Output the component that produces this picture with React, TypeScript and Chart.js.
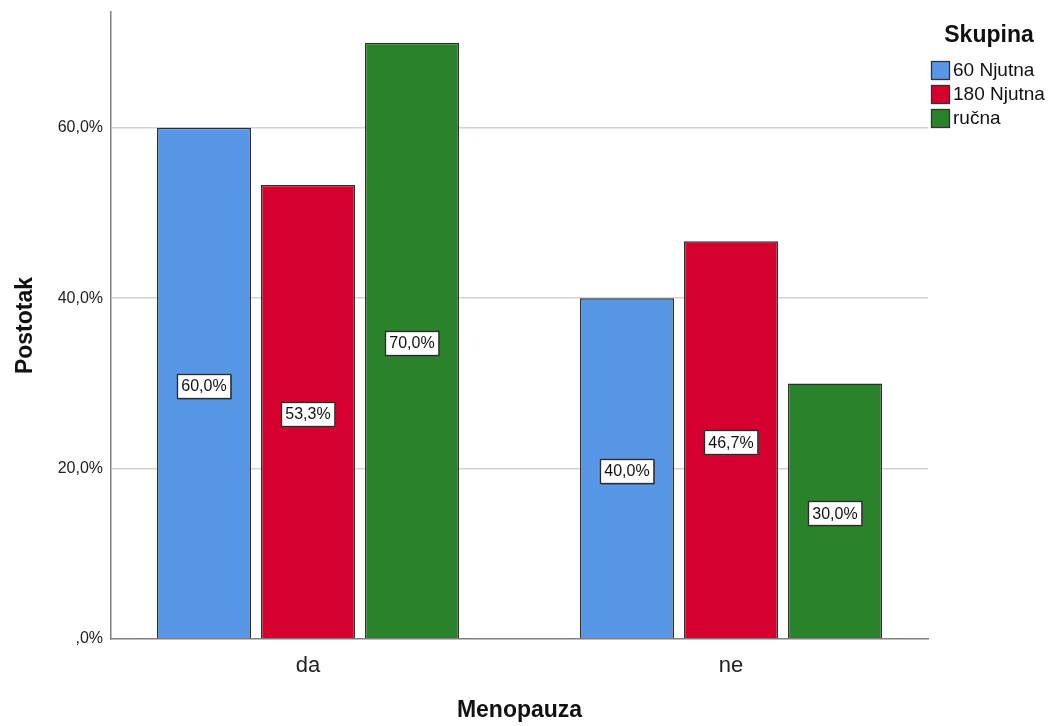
import React, { useEffect, useRef } from "react";
import { Chart, registerables } from "chart.js";

Chart.register(...registerables);

const categories = ["da", "ne"];
const seriesNames = ["60 Njutna", "180 Njutna", "ručna"];
const series60 = [60.0, 40.0];
const series180 = [53.3, 46.7];
const seriesRucna = [70.0, 30.0];
const yTicks = [0, 20, 40, 60];
const legendTitle = "Skupina";
const xTitle = "Menopauza";
const yTitle = "Postotak";

const colors = ["#5797E6", "#D6002E", "#2A832A"];
const FONT = "'Liberation Sans', Arial, sans-serif";
const X_MIN = -0.4657;
const X_MAX = 1.4657;
const Y_MAX = 73.6;

const fmt = (v: number) => (v === 0 ? ",0%" : v.toFixed(1).replace(".", ",") + "%");

const labelPlugin = {
  id: "barLabels",
  afterDatasetsDraw(chart: any) {
    const ctx = chart.ctx;
    ctx.save();
    ctx.font = `16px ${FONT}`;
    ctx.textAlign = "center";
    ctx.textBaseline = "middle";
    chart.data.datasets.forEach((ds: any, di: number) => {
      const meta = chart.getDatasetMeta(di);
      meta.data.forEach((el: any, i: number) => {
        const v = ds.data[i].y;
        const text = fmt(v);
        const cx = el.x;
        const cy = (el.y + el.base) / 2 + 2.5;
        const w = ctx.measureText(text).width + 8;
        const h = 24;
        const l = Math.round(cx - w / 2) + 0.5;
        const t = Math.round(cy - h / 2) + 0.5;
        ctx.fillStyle = "#555555";
        ctx.fillRect(l + 1, t + 1, w, h);
        ctx.fillStyle = "#ffffff";
        ctx.fillRect(l, t, w, h);
        ctx.strokeStyle = "#2a2a2a";
        ctx.lineWidth = 1.3;
        ctx.strokeRect(l, t, w, h);
        ctx.fillStyle = "#111111";
        ctx.fillText(text, cx, cy + 1);
      });
    });
    ctx.restore();
  },
};

const legendPlugin = {
  id: "sideLegend",
  afterDraw(chart: any) {
    const ctx = chart.ctx;
    const x0 = chart.chartArea.right + 3;
    ctx.save();
    ctx.fillStyle = "#111111";
    ctx.font = `bold 23px ${FONT}`;
    ctx.textAlign = "center";
    ctx.textBaseline = "middle";
    ctx.fillText(legendTitle, x0 + 58, 36);
    ctx.font = `19px ${FONT}`;
    ctx.textAlign = "left";
    chart.data.datasets.forEach((ds: any, i: number) => {
      const rowY = 70 + i * 24;
      ctx.fillStyle = ds.backgroundColor;
      ctx.fillRect(x0 + 0.5, rowY - 9 + 0.5, 18, 18);
      ctx.strokeStyle = "#333333";
      ctx.lineWidth = 1.3;
      ctx.strokeRect(x0 + 0.5, rowY - 9 + 0.5, 18, 18);
      ctx.fillStyle = "#111111";
      ctx.fillText(ds.label, x0 + 22, rowY + 1);
    });
    ctx.restore();
  },
};

export default function App() {
  const ref = useRef<HTMLCanvasElement | null>(null);

  useEffect(() => {
    if (!ref.current) return;
    Chart.defaults.font.family = FONT;
    const allSeries = [series60, series180, seriesRucna];
    const chart = new Chart(ref.current, {
      type: "bar",
      data: {
        datasets: allSeries.map((s, si) => ({
          label: seriesNames[si],
          data: s.map((v, i) => ({ x: i, y: v })),
          backgroundColor: colors[si],
          borderColor: "#303030",
          borderWidth: 1.5,
          categoryPercentage: 0.7376,
          barPercentage: 0.904,
        })),
      },
      options: {
        animation: false,
        responsive: false,
        devicePixelRatio: 1,
        layout: { padding: { top: 12, right: 121, left: 0, bottom: 0 } },
        plugins: {
          legend: { display: false },
          tooltip: { enabled: false },
        },
        scales: {
          x: {
            type: "linear",
            offset: false,
            bounds: "data",
            min: X_MIN,
            max: X_MAX,
            afterDataLimits: (s: any) => {
              s.min = X_MIN;
              s.max = X_MAX;
            },
            afterBuildTicks: (s: any) => {
              s.ticks = categories.map((_, i) => ({ value: i }));
              s.min = X_MIN;
              s.max = X_MAX;
            },
            afterFit: (s: any) => {
              s.height = 87;
              s.paddingLeft = 0;
              s.paddingRight = 0;
            },
            ticks: {
              callback: (v: any) => categories[v] ?? "",
              font: { size: 22 },
              color: "#222222",
              padding: 14,
              maxRotation: 0,
              autoSkip: false,
            },
            grid: { display: false, drawTicks: false, offset: false },
            border: { display: true, color: "#7f7f7f", width: 1.5 },
            title: {
              display: true,
              text: xTitle,
              font: { size: 23, weight: "bold" },
              color: "#111111",
              padding: { top: 0, bottom: 2 },
            },
          },
          y: {
            type: "linear",
            min: 0,
            max: Y_MAX,
            afterBuildTicks: (s: any) => {
              s.ticks = yTicks.map((v) => ({ value: v }));
              s.min = 0;
              s.max = Y_MAX;
            },
            afterFit: (s: any) => {
              s.width = 111;
              s.paddingTop = 0;
              s.paddingBottom = 0;
            },
            ticks: {
              callback: (v: any) => fmt(Number(v)),
              font: { size: 16 },
              color: "#222222",
              padding: 8,
            },
            grid: {
              drawTicks: false,
              color: (c: any) => (c.tick && c.tick.value === 0 ? "rgba(0,0,0,0)" : "#d3d3d3"),
              lineWidth: 1.5,
            },
            border: { display: true, color: "#7f7f7f", width: 1.5 },
            title: {
              display: true,
              text: yTitle,
              font: { size: 23, weight: "bold" },
              color: "#111111",
              padding: { top: 12, bottom: 0 },
            },
          },
        },
      },
      plugins: [labelPlugin, legendPlugin],
    });
    return () => chart.destroy();
  }, []);

  return (
    <div style={{ position: "absolute", left: 0, top: 0, width: 1049, height: 726, background: "#ffffff" }}>
      <canvas ref={ref} width={1049} height={726} style={{ display: "block", width: 1049, height: 726 }} />
    </div>
  );
}
